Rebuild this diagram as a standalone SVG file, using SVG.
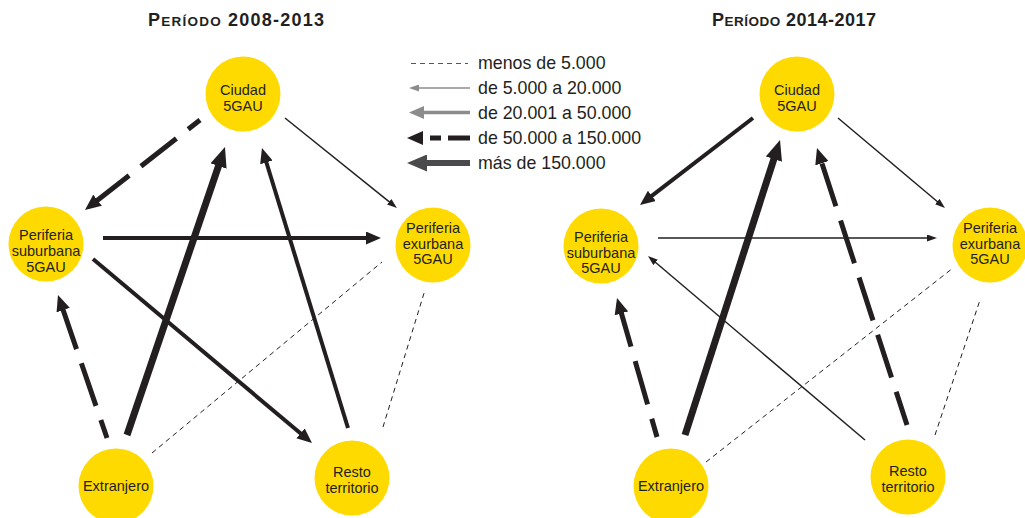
<svg xmlns="http://www.w3.org/2000/svg" width="1025" height="518" viewBox="0 0 1025 518">
<style>
.node{fill:#FFDA00}
.lbl{font-family:"Liberation Sans",Arial,sans-serif;font-size:14.5px;fill:#231f20;text-anchor:middle}
.leg{font-family:"Liberation Sans",Arial,sans-serif;font-size:17.8px;fill:#231f20}
.ttl{font-family:"Liberation Sans",Arial,sans-serif;font-weight:bold;fill:#231f20}
.e{fill:none;stroke:#231f20;stroke-linecap:butt}
.thin{stroke-width:1.5;marker-end:url(#mThin)}
.med{stroke-width:4;marker-end:url(#mMed)}
.dsh{stroke-width:5;stroke-dasharray:45 15;marker-end:url(#mDash)}
.thick{stroke-width:7;marker-end:url(#mThick)}
.dot{stroke-width:1;stroke-dasharray:5 4}
</style>
<defs>
<marker id="mThin" markerUnits="userSpaceOnUse" markerWidth="10" markerHeight="7" refX="3" refY="3.5" orient="auto"><path d="M0,0 L10,3.5 L0,7 z" fill="#231f20"/></marker>
<marker id="mMed" markerUnits="userSpaceOnUse" markerWidth="15" markerHeight="13" refX="3" refY="6.5" orient="auto"><path d="M0,0 L15,6.5 L0,13 z" fill="#231f20"/></marker>
<marker id="mDash" markerUnits="userSpaceOnUse" markerWidth="16" markerHeight="14" refX="3" refY="7" orient="auto"><path d="M0,0 L16,7 L0,14 z" fill="#231f20"/></marker>
<marker id="mThick" markerUnits="userSpaceOnUse" markerWidth="20" markerHeight="17" refX="3" refY="8.5" orient="auto"><path d="M0,0 L20,8.5 L0,17 z" fill="#231f20"/></marker>
<marker id="mThinG" markerUnits="userSpaceOnUse" markerWidth="10" markerHeight="7" refX="3" refY="3.5" orient="auto"><path d="M0,0 L10,3.5 L0,7 z" fill="#8c8c8c"/></marker>
<marker id="mMedG" markerUnits="userSpaceOnUse" markerWidth="15" markerHeight="13" refX="3" refY="6.5" orient="auto"><path d="M0,0 L15,6.5 L0,13 z" fill="#8c8c8c"/></marker>
<marker id="mThickD" markerUnits="userSpaceOnUse" markerWidth="20" markerHeight="17" refX="3" refY="8.5" orient="auto"><path d="M0,0 L20,8.5 L0,17 z" fill="#4a4a4c"/></marker>
</defs>

<g id="titles">
<text class="ttl" x="148" y="26" textLength="176" lengthAdjust="spacing"><tspan font-size="18">P</tspan><tspan font-size="13.5">ERÍODO</tspan><tspan font-size="18"> 2008-2013</tspan></text>
<text class="ttl" x="712" y="26" textLength="164" lengthAdjust="spacing"><tspan font-size="18">P</tspan><tspan font-size="13.5">ERÍODO</tspan><tspan font-size="18"> 2014-2017</tspan></text>
</g>

<g id="legend">
<line x1="411" y1="63.5" x2="468" y2="63.5" stroke="#555" stroke-width="1" stroke-dasharray="5 4"/>
<line x1="470" y1="88" x2="416" y2="88" stroke="#8c8c8c" stroke-width="1.5" marker-end="url(#mThinG)"/>
<line x1="470" y1="112.5" x2="421" y2="112.5" stroke="#8c8c8c" stroke-width="3.5" marker-end="url(#mMedG)"/>
<line x1="470" y1="138" x2="420" y2="138" stroke="#231f20" stroke-width="5" stroke-dasharray="22 7 11 100" marker-end="url(#mDash)"/>
<line x1="470" y1="163" x2="424" y2="163" stroke="#4a4a4c" stroke-width="6" marker-end="url(#mThickD)"/>
<text class="leg" x="478" y="69">menos de 5.000</text>
<text class="leg" x="478" y="93.5">de 5.000 a 20.000</text>
<text class="leg" x="478" y="118.5">de 20.001 a 50.000</text>
<text class="leg" x="478" y="144">de 50.000 a 150.000</text>
<text class="leg" x="478" y="169">más de 150.000</text>
</g>

<g id="connectors">
<!-- left -->
<line class="e dsh" x1="200" y1="120" x2="95.2" y2="202" stroke-dashoffset="30"/>
<line class="e thin" x1="285" y1="118" x2="391.5" y2="203.6"/>
<line class="e med" x1="103" y1="238" x2="369" y2="238"/>
<line class="e med" x1="93" y1="259" x2="302.8" y2="435.3"/>
<line class="e dsh" x1="107" y1="438" x2="62.2" y2="307.3" stroke-dashoffset="26"/>
<line class="e thick" x1="127" y1="435" x2="219.5" y2="163.1"/>
<line class="e med" x1="348" y1="428" x2="265.5" y2="159.5"/>
<line class="e dot" x1="152" y1="453" x2="382" y2="262"/>
<line class="e dot" x1="383" y1="427" x2="425" y2="290"/>
<!-- right -->
<line class="e med" x1="753" y1="118" x2="649.5" y2="197.7"/>
<line class="e thin" x1="838" y1="118" x2="939.6" y2="203.5"/>
<line class="e thin" x1="658" y1="238" x2="930" y2="238"/>
<line class="e thin" x1="865" y1="440" x2="653.3" y2="260.5"/>
<line class="e dsh" x1="657" y1="437" x2="620.6" y2="310.5" stroke-dashoffset="26"/>
<line class="e thick" x1="685" y1="435" x2="774.8" y2="156.2"/>
<line class="e dsh" x1="907" y1="425" x2="821" y2="160.4" stroke-dashoffset="10"/>
<line class="e dot" x1="706" y1="462" x2="953" y2="268"/>
<line class="e dot" x1="935" y1="435" x2="980" y2="300"/>
</g>

<g id="L-ciudad"><circle class="node" cx="243" cy="94" r="37.5"/><text class="lbl" x="243" y="95">Ciudad</text><text class="lbl" x="243" y="110.5">5GAU</text></g>
<g id="L-suburbana"><circle class="node" cx="46" cy="244" r="37.5"/><text class="lbl" x="46" y="240">Periferia</text><text class="lbl" x="46" y="256">suburbana</text><text class="lbl" x="46" y="272">5GAU</text></g>
<g id="L-exurbana"><circle class="node" cx="433" cy="245" r="37.5"/><text class="lbl" x="433" y="233">Periferia</text><text class="lbl" x="433" y="248.5">exurbana</text><text class="lbl" x="433" y="264">5GAU</text></g>
<g id="L-extranjero"><circle class="node" cx="116" cy="486" r="37.5"/><text class="lbl" x="116" y="491">Extranjero</text></g>
<g id="L-resto"><circle class="node" cx="352" cy="478" r="37.5"/><text class="lbl" x="352" y="477">Resto</text><text class="lbl" x="352" y="493">territorio</text></g>

<g id="R-ciudad"><circle class="node" cx="797" cy="94" r="37.5"/><text class="lbl" x="797" y="95">Ciudad</text><text class="lbl" x="797" y="110.5">5GAU</text></g>
<g id="R-suburbana"><circle class="node" cx="601" cy="246" r="37.5"/><text class="lbl" x="601" y="242">Periferia</text><text class="lbl" x="601" y="257.5">suburbana</text><text class="lbl" x="601" y="273">5GAU</text></g>
<g id="R-exurbana"><circle class="node" cx="990" cy="245" r="37.5"/><text class="lbl" x="990" y="233">Periferia</text><text class="lbl" x="990" y="248.5">exurbana</text><text class="lbl" x="990" y="264">5GAU</text></g>
<g id="R-extranjero"><circle class="node" cx="671" cy="486" r="37.5"/><text class="lbl" x="671" y="491">Extranjero</text></g>
<g id="R-resto"><circle class="node" cx="908" cy="477" r="37.5"/><text class="lbl" x="908" y="476">Resto</text><text class="lbl" x="908" y="492">territorio</text></g>
</svg>
